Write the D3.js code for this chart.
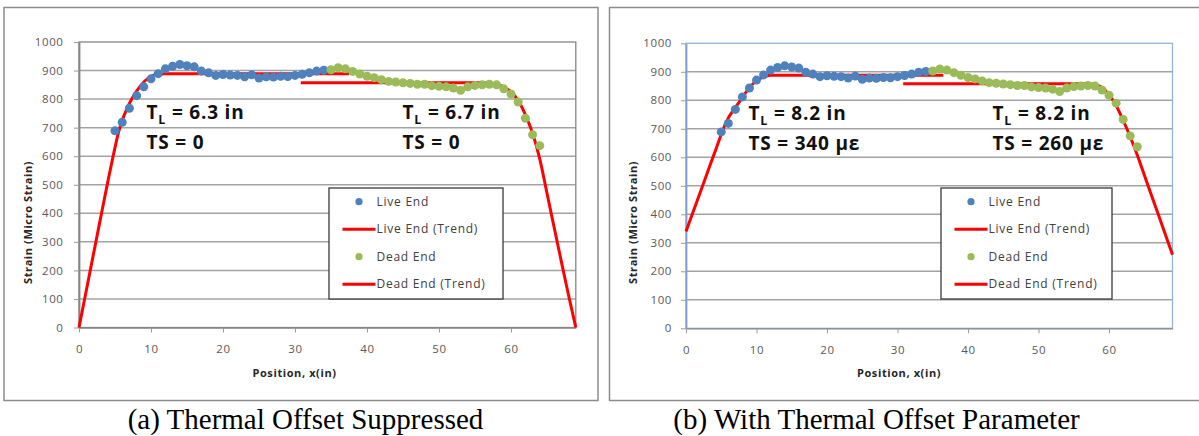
<!DOCTYPE html>
<meta charset="utf-8">

<div id="area"></div>

<script src="https://d3js.org/d3.v7.min.js"></script>

<style>
  body {
    background: #fff;
    margin: 0;
  }
  svg { display: block; }
  .tick text {
    font-family: "Open Sans", sans-serif;
    font-size: 11.5px;
    fill: #595959;
    letter-spacing: 0.6px;
  }
  .axis-title {
    font-family: "Open Sans", sans-serif;
    font-size: 11px;
    font-weight: bold;
    fill: #262626;
    letter-spacing: 0.6px;
  }
  .note {
    font-family: "Open Sans", sans-serif;
    font-size: 19px;
    font-weight: bold;
    fill: #111;
    letter-spacing: 0.8px;
  }
  .legend text {
    font-family: "Open Sans", sans-serif;
    font-size: 12px;
    fill: #404040;
    letter-spacing: 0.75px;
  }
  .caption {
    font-family: "Liberation Serif", "Times New Roman", serif;
    font-size: 29px;
    fill: #000;
  }
</style>

<script>
// axis ticks
var positionTicks = [0, 10, 20, 30, 40, 50, 60];
var strainTicks = [0, 100, 200, 300, 400, 500, 600, 700, 800, 900, 1000];

// measured strain, same gauges in both panels
var livePos = [5, 6, 7, 8, 9, 10, 11, 12, 13, 14, 15, 16, 17, 18, 19,
               20, 21, 22, 23, 24, 25, 26, 27, 28, 29, 30, 31, 32, 33, 34];
var liveStrain = [689, 719, 768, 812, 843, 871, 889, 906, 915, 921, 917, 913, 898, 892, 883,
                  886, 884, 883, 878, 885, 874, 878, 877, 880, 879, 883, 887, 892, 898, 901];
var deadPos = [35, 36, 37, 38, 39, 40, 41, 42, 43, 44, 45, 46, 47, 48, 49,
               50, 51, 52, 53, 54, 55, 56, 57, 58, 59, 60, 61, 62, 63, 64];
var deadStrain = [903, 910, 906, 897, 888, 880, 875, 868, 862, 860, 857, 855, 852, 852, 847,
                  845, 843, 839, 831, 843, 848, 850, 852, 850, 836, 818, 790, 733, 675, 637];

// (a) fitted trends, thermal offset suppressed
var liveTrendPosA = [0, 1, 2, 3, 4, 5, 5.5, 6, 6.6, 7, 8, 9, 10, 11, 12, 37.5];
var liveTrendA = [0, 128, 256, 384, 510, 630, 685, 725, 763, 785, 828, 860, 880, 887, 889, 889];
var deadTrendPosA = [30.8, 56, 57, 58, 59, 60, 61, 62, 63, 64, 65, 66, 67, 68, 69];
var deadTrendA = [857, 857, 856, 852, 842, 825, 795, 745, 680, 590, 470, 350, 230, 112, 0];

// (b) fitted trends, with thermal offset
var liveTrendPosB = [0, 1, 2, 3, 4, 5, 5.5, 6, 7, 8, 9, 10, 11, 12, 36.5];
var liveTrendB = [340, 408, 476, 544, 612, 680, 712, 738, 775, 810, 845, 868, 882, 888, 888];
var deadTrendPosB = [30.8, 57, 58, 59, 60, 61, 62, 63, 64, 65, 66, 67, 68, 69];
var deadTrendB = [858, 858, 855, 845, 820, 782, 730, 672, 608, 538, 468, 398, 328, 258];

var legendLabels = ["Live End", "Live End (Trend)", "Dead End", "Dead End (Trend)"];
var notesA = [["6.3 in", "0"], ["6.7 in", "0"]];
var notesB = [["8.2 in", "340 \u03bc\u03b5"], ["8.2 in", "260 \u03bc\u03b5"]];
var captions = ["(a) Thermal Offset Suppressed", "(b) With Thermal Offset Parameter"];

var blue = "#4f81bd", green = "#9bbb59", red = "#ff0000";

var svg = d3.select("#area")
  .append("svg")
    .attr("width", 1199)
    .attr("height", 436);

var panels = [
  { frame: [4, 7.5, 594, 393], x0: 79, x1: 575.8, y0: 327.5, y1: 42,
    border: "#868686", yAxis: "#868686",
    liveTrend: [liveTrendPosA, liveTrendA], deadTrend: [deadTrendPosA, deadTrendA],
    notes: notesA, noteX: [146.5, 402.5], noteY: [119, 148.5],
    legend: [329, 188, 174, 111], yTitle: [32, 284], xTitle: [294.5, 377],
    caption: captions[0], captionX: 305.5, yPad: 10.5 },
  { frame: [609.5, 7.5, 592, 393], x0: 686, x1: 1172.5, y0: 328.3, y1: 43.3,
    border: "#95b3d7", yAxis: "#7f9fcf",
    liveTrend: [liveTrendPosB, liveTrendB], deadTrend: [deadTrendPosB, deadTrendB],
    notes: notesB, noteX: [748.5, 992.5], noteY: [120, 150],
    legend: [941, 188, 171, 111], yTitle: [637, 284], xTitle: [899, 377],
    caption: captions[1], captionX: 876.5, yPad: 9 }
];

panels.forEach(function(p) {
  var g = svg.append("g");
  var x = d3.scaleLinear().domain([0, 69]).range([p.x0, p.x1]);
  var y = d3.scaleLinear().domain([0, 1000]).range([p.y0, p.y1]);

  // outer chart frame
  g.append("rect")
    .attr("x", p.frame[0]).attr("y", p.frame[1])
    .attr("width", p.frame[2]).attr("height", p.frame[3])
    .attr("fill", "#fff")
    .attr("stroke", "#8c8c8c")
    .attr("stroke-width", 1.5);

  // gridlines
  g.append("g")
    .selectAll("line")
    .data(strainTicks.slice(1, -1))
    .enter()
    .append("line")
      .attr("x1", p.x0).attr("x2", p.x1)
      .attr("y1", function(d) { return y(d); })
      .attr("y2", function(d) { return y(d); })
      .attr("stroke", "#a3a3a3")
      .attr("stroke-width", 1.5);

  // plot area border
  g.append("rect")
    .attr("x", p.x0).attr("y", p.y1)
    .attr("width", p.x1 - p.x0).attr("height", p.y0 - p.y1)
    .attr("fill", "none")
    .attr("stroke", p.border)
    .attr("stroke-width", 1.3);

  // X axis
  var xa = g.append("g")
    .attr("transform", "translate(0," + p.y0 + ")")
    .call(d3.axisBottom(x).tickValues(positionTicks).tickSize(5).tickSizeOuter(0).tickPadding(12.5));
  xa.select(".domain").attr("stroke", "#868686").attr("stroke-width", 1.3);
  xa.selectAll(".tick line").attr("stroke", "#9a9a9a");

  // Y axis
  var ya = g.append("g")
    .attr("transform", "translate(" + p.x0 + ",0)")
    .call(d3.axisLeft(y).tickValues(strainTicks).tickFormat(d3.format("d"))
      .tickSize(5).tickSizeOuter(0).tickPadding(p.yPad));
  ya.select(".domain").attr("stroke", p.yAxis).attr("stroke-width", 1.8);
  ya.selectAll(".tick line").attr("stroke", "#9a9a9a");

  // axis titles
  g.append("text")
    .attr("class", "axis-title")
    .attr("x", p.xTitle[0]).attr("y", p.xTitle[1])
    .attr("text-anchor", "middle")
    .text("Position, x(in)");
  g.append("text")
    .attr("class", "axis-title")
    .attr("transform", "translate(" + p.yTitle[0] + "," + p.yTitle[1] + ")rotate(-90)")
    .attr("text-anchor", "start")
    .text("Strain (Micro Strain)");

  // trend lines
  var line = d3.line()
    .x(function(d) { return x(d[0]); })
    .y(function(d) { return y(d[1]); })
    .curve(d3.curveMonotoneX);
  [p.liveTrend, p.deadTrend].forEach(function(t) {
    g.append("path")
      .datum(d3.zip(t[0], t[1]))
      .attr("d", line)
      .attr("fill", "none")
      .attr("stroke", red)
      .attr("stroke-width", 3);
  });

  // measured points
  g.append("g").selectAll("circle")
    .data(d3.zip(livePos, liveStrain))
    .enter().append("circle")
      .attr("cx", function(d) { return x(d[0]); })
      .attr("cy", function(d) { return y(d[1]); })
      .attr("r", 4.5)
      .attr("fill", blue);
  g.append("g").selectAll("circle")
    .data(d3.zip(deadPos, deadStrain))
    .enter().append("circle")
      .attr("cx", function(d) { return x(d[0]); })
      .attr("cy", function(d) { return y(d[1]); })
      .attr("r", 4.5)
      .attr("fill", green);

  // T_L / TS notes
  p.notes.forEach(function(n, i) {
    var t = g.append("text").attr("class", "note")
      .attr("x", p.noteX[i]).attr("y", p.noteY[0]);
    t.append("tspan").text("T");
    t.append("tspan").attr("font-size", "12.5px").attr("dy", 5).text("L");
    t.append("tspan").attr("dy", -5).text(" = " + n[0]);
    g.append("text").attr("class", "note")
      .attr("x", p.noteX[i]).attr("y", p.noteY[1])
      .text("TS = " + n[1]);
  });

  // legend
  var lg = g.append("g").attr("class", "legend");
  lg.append("rect")
    .attr("x", p.legend[0]).attr("y", p.legend[1])
    .attr("width", p.legend[2]).attr("height", p.legend[3])
    .attr("fill", "#fff")
    .attr("stroke", "#3a3a3a")
    .attr("stroke-width", 1.3);
  legendLabels.forEach(function(label, i) {
    var cy = p.legend[1] + 13.7 + i * 27.5;
    var lx = p.legend[0];
    if (i % 2 == 0) {
      lg.append("circle")
        .attr("cx", lx + 30).attr("cy", cy).attr("r", 3.6)
        .attr("fill", i == 0 ? blue : green);
    } else {
      lg.append("line")
        .attr("x1", lx + 13.5).attr("x2", lx + 46.5)
        .attr("y1", cy).attr("y2", cy)
        .attr("stroke", red).attr("stroke-width", 3);
    }
    lg.append("text")
      .attr("x", lx + 47.5).attr("y", cy)
      .attr("dy", "0.35em")
      .text(label);
  });

  // caption
  svg.append("text")
    .attr("class", "caption")
    .attr("x", p.captionX).attr("y", 429)
    .attr("text-anchor", "middle")
    .text(p.caption);
});
</script>
